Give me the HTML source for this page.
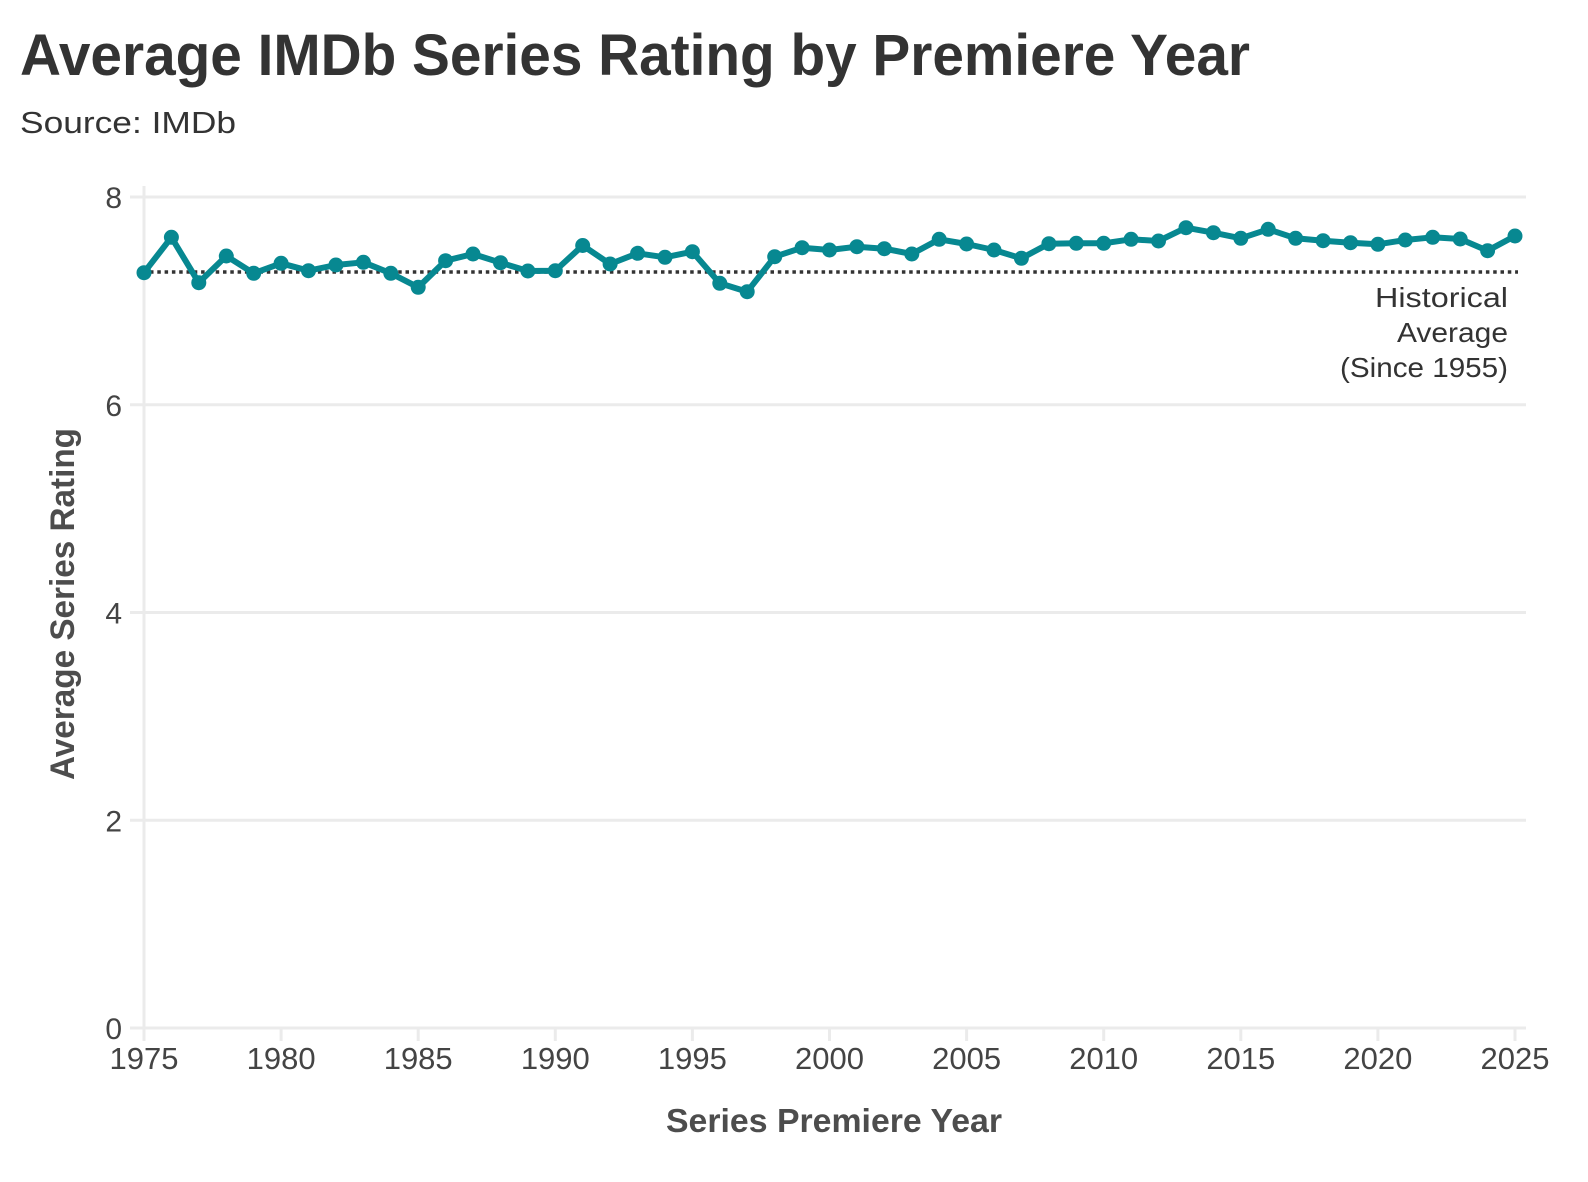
<!DOCTYPE html>
<html>
<head>
<meta charset="utf-8">
<style>
  html, body { margin: 0; padding: 0; background: #ffffff; }
  body { width: 1588px; height: 1182px; overflow: hidden; }
  svg { display: block; font-family: "Liberation Sans", "DejaVu Sans", sans-serif; }
</style>
</head>
<body>
<svg width="1588" height="1182" viewBox="0 0 1588 1182" xmlns="http://www.w3.org/2000/svg">
  <rect x="0" y="0" width="1588" height="1182" fill="#ffffff"/>

  <text x="20" y="75" font-size="58" font-weight="bold" fill="#333333" textLength="1230" lengthAdjust="spacingAndGlyphs">Average IMDb Series Rating by Premiere Year</text>
  <text x="20" y="133" font-size="31" fill="#333333" textLength="216" lengthAdjust="spacingAndGlyphs">Source: IMDb</text>

  <g stroke="#ebebeb" stroke-width="3" fill="none">
    <line x1="130" y1="197" x2="1526" y2="197"/>
    <line x1="130" y1="404.75" x2="1526" y2="404.75"/>
    <line x1="130" y1="612.5" x2="1526" y2="612.5"/>
    <line x1="130" y1="820.25" x2="1526" y2="820.25"/>
    <line x1="130" y1="1028" x2="1526" y2="1028"/>
    <line x1="144" y1="186" x2="144" y2="1041"/>
    <line x1="281.1" y1="1028" x2="281.1" y2="1041"/>
    <line x1="418.2" y1="1028" x2="418.2" y2="1041"/>
    <line x1="555.3" y1="1028" x2="555.3" y2="1041"/>
    <line x1="692.4" y1="1028" x2="692.4" y2="1041"/>
    <line x1="829.5" y1="1028" x2="829.5" y2="1041"/>
    <line x1="966.6" y1="1028" x2="966.6" y2="1041"/>
    <line x1="1103.7" y1="1028" x2="1103.7" y2="1041"/>
    <line x1="1240.8" y1="1028" x2="1240.8" y2="1041"/>
    <line x1="1377.9" y1="1028" x2="1377.9" y2="1041"/>
    <line x1="1515" y1="1028" x2="1515" y2="1041"/>
  </g>

  <g font-size="30" fill="#444444" text-anchor="end">
    <text x="122" y="208">8</text>
    <text x="122" y="415.75">6</text>
    <text x="122" y="623.5">4</text>
    <text x="122" y="831.25">2</text>
    <text x="122" y="1039">0</text>
  </g>

  <g font-size="31" fill="#444444" text-anchor="middle">
    <text x="144" y="1069">1975</text>
    <text x="281.1" y="1069">1980</text>
    <text x="418.2" y="1069">1985</text>
    <text x="555.3" y="1069">1990</text>
    <text x="692.4" y="1069">1995</text>
    <text x="829.5" y="1069">2000</text>
    <text x="966.6" y="1069">2005</text>
    <text x="1103.7" y="1069">2010</text>
    <text x="1240.8" y="1069">2015</text>
    <text x="1377.9" y="1069">2020</text>
    <text x="1515" y="1069">2025</text>
  </g>

  <text x="666" y="1132" font-size="33" font-weight="bold" fill="#4d4d4d" textLength="336" lengthAdjust="spacingAndGlyphs">Series Premiere Year</text>
  <text transform="translate(74,780) rotate(-90)" x="0" y="0" font-size="34" font-weight="bold" fill="#4d4d4d" textLength="352" lengthAdjust="spacingAndGlyphs">Average Series Rating</text>

  <line x1="150" y1="272" x2="1518" y2="272" stroke="#333333" stroke-width="3.5" stroke-dasharray="3.5 3.8"/>

  <polyline fill="none" stroke="#078891" stroke-width="6" stroke-linejoin="round" stroke-linecap="round" points="144.0,272.7 171.4,237.3 198.8,282.7 226.3,256 253.7,273.3 281.1,263.3 308.5,270.7 335.9,265 363.4,262.3 390.8,273.3 418.2,287.3 445.6,260.7 473.0,254 500.5,262.7 527.9,271 555.3,270.7 582.7,245.5 610.1,264 637.6,253.3 665.0,257.3 692.4,251.7 719.8,283.3 747.2,291.7 774.7,256.7 802.1,247.7 829.5,250 856.9,246.7 884.3,248.7 911.8,254 939.2,239.3 966.6,244 994.0,250 1021.4,258.3 1048.9,243.7 1076.3,243.3 1103.7,243.3 1131.1,239.3 1158.5,241 1186.0,227.7 1213.4,232.7 1240.8,238.3 1268.2,229.3 1295.6,238.3 1323.1,240.7 1350.5,242.7 1377.9,244.3 1405.3,240 1432.7,237.3 1460.2,239 1487.6,250.7 1515.0,236"/>

  <g fill="#078891">
    <circle cx="144.0" cy="272.7" r="7.5"/>
    <circle cx="171.4" cy="237.3" r="7.5"/>
    <circle cx="198.8" cy="282.7" r="7.5"/>
    <circle cx="226.3" cy="256" r="7.5"/>
    <circle cx="253.7" cy="273.3" r="7.5"/>
    <circle cx="281.1" cy="263.3" r="7.5"/>
    <circle cx="308.5" cy="270.7" r="7.5"/>
    <circle cx="335.9" cy="265" r="7.5"/>
    <circle cx="363.4" cy="262.3" r="7.5"/>
    <circle cx="390.8" cy="273.3" r="7.5"/>
    <circle cx="418.2" cy="287.3" r="7.5"/>
    <circle cx="445.6" cy="260.7" r="7.5"/>
    <circle cx="473.0" cy="254" r="7.5"/>
    <circle cx="500.5" cy="262.7" r="7.5"/>
    <circle cx="527.9" cy="271" r="7.5"/>
    <circle cx="555.3" cy="270.7" r="7.5"/>
    <circle cx="582.7" cy="245.5" r="7.5"/>
    <circle cx="610.1" cy="264" r="7.5"/>
    <circle cx="637.6" cy="253.3" r="7.5"/>
    <circle cx="665.0" cy="257.3" r="7.5"/>
    <circle cx="692.4" cy="251.7" r="7.5"/>
    <circle cx="719.8" cy="283.3" r="7.5"/>
    <circle cx="747.2" cy="291.7" r="7.5"/>
    <circle cx="774.7" cy="256.7" r="7.5"/>
    <circle cx="802.1" cy="247.7" r="7.5"/>
    <circle cx="829.5" cy="250" r="7.5"/>
    <circle cx="856.9" cy="246.7" r="7.5"/>
    <circle cx="884.3" cy="248.7" r="7.5"/>
    <circle cx="911.8" cy="254" r="7.5"/>
    <circle cx="939.2" cy="239.3" r="7.5"/>
    <circle cx="966.6" cy="244" r="7.5"/>
    <circle cx="994.0" cy="250" r="7.5"/>
    <circle cx="1021.4" cy="258.3" r="7.5"/>
    <circle cx="1048.9" cy="243.7" r="7.5"/>
    <circle cx="1076.3" cy="243.3" r="7.5"/>
    <circle cx="1103.7" cy="243.3" r="7.5"/>
    <circle cx="1131.1" cy="239.3" r="7.5"/>
    <circle cx="1158.5" cy="241" r="7.5"/>
    <circle cx="1186.0" cy="227.7" r="7.5"/>
    <circle cx="1213.4" cy="232.7" r="7.5"/>
    <circle cx="1240.8" cy="238.3" r="7.5"/>
    <circle cx="1268.2" cy="229.3" r="7.5"/>
    <circle cx="1295.6" cy="238.3" r="7.5"/>
    <circle cx="1323.1" cy="240.7" r="7.5"/>
    <circle cx="1350.5" cy="242.7" r="7.5"/>
    <circle cx="1377.9" cy="244.3" r="7.5"/>
    <circle cx="1405.3" cy="240" r="7.5"/>
    <circle cx="1432.7" cy="237.3" r="7.5"/>
    <circle cx="1460.2" cy="239" r="7.5"/>
    <circle cx="1487.6" cy="250.7" r="7.5"/>
    <circle cx="1515.0" cy="236" r="7.5"/>
  </g>

  <g font-size="28" fill="#333333" text-anchor="end">
    <text x="1508" y="307" textLength="133" lengthAdjust="spacingAndGlyphs">Historical</text>
    <text x="1508" y="342" textLength="111" lengthAdjust="spacingAndGlyphs">Average</text>
    <text x="1508" y="377" textLength="168" lengthAdjust="spacingAndGlyphs">(Since 1955)</text>
  </g>
</svg>
</body>
</html>
